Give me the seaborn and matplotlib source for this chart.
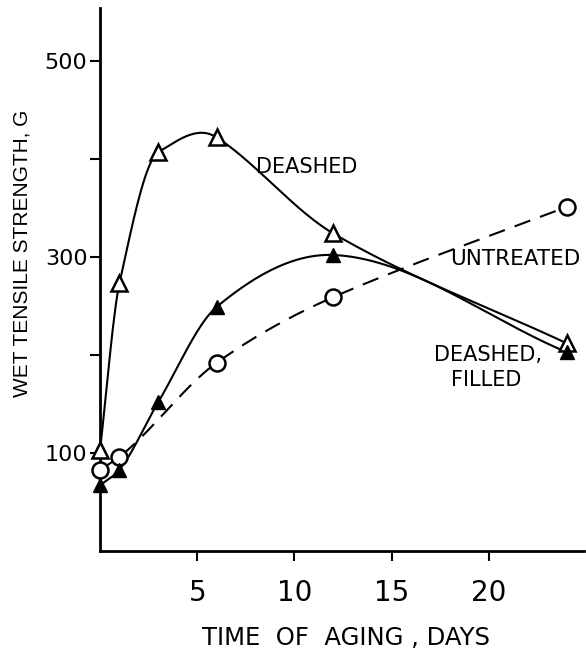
import numpy as np
import pandas as pd
import matplotlib
matplotlib.use("Agg")
import matplotlib.pyplot as plt
import seaborn as sns

# Wet tensile strength (g) versus time of aging (days)
deashed_days = [0, 1, 3, 6, 12, 24]
deashed_strength = [103, 273, 407, 422, 324, 212]

filled_days = [0, 1, 3, 6, 12, 24]
filled_strength = [67, 83, 152, 249, 302, 203]

untreated_days = [0, 1, 6, 12, 24]
untreated_strength = [83, 96, 192, 259, 351]

x_ticks = [5, 10, 15, 20]
y_ticks = [100, 200, 300, 400, 500]
y_tick_labels = ["100", "", "300", "", "500"]


def smooth_curve(x, y, n=400):
    """Modified-Akima cubic Hermite curve through the measured points."""
    x = np.asarray(x, float)
    y = np.asarray(y, float)
    k = len(x)
    s = np.diff(y) / np.diff(x)
    # extend the secant slopes two steps beyond each end
    ext = np.concatenate((
        [3 * s[0] - 2 * s[1], 2 * s[0] - s[1]],
        s,
        [2 * s[-1] - s[-2], 3 * s[-1] - 2 * s[-2]],
    ))
    m = np.empty(k)
    for i in range(k):
        sm2, sm1, s0, sp1 = ext[i], ext[i + 1], ext[i + 2], ext[i + 3]
        w1 = abs(sp1 - s0) + abs(sp1 + s0) / 2
        w2 = abs(sm1 - sm2) + abs(sm1 + sm2) / 2
        if w1 + w2 == 0:
            m[i] = 0.5 * (sm1 + s0)
        else:
            m[i] = (w1 * sm1 + w2 * s0) / (w1 + w2)
    m[0] = s[0]
    m[-1] = s[-1]
    xs = np.linspace(x[0], x[-1], n)
    ys = np.empty_like(xs)
    for j, xv in enumerate(xs):
        i = min(np.searchsorted(x, xv, side="right") - 1, k - 2)
        h = x[i + 1] - x[i]
        t = (xv - x[i]) / h
        h00 = 2 * t ** 3 - 3 * t ** 2 + 1
        h10 = t ** 3 - 2 * t ** 2 + t
        h01 = -2 * t ** 3 + 3 * t ** 2
        h11 = t ** 3 - t ** 2
        ys[j] = h00 * y[i] + h10 * h * m[i] + h01 * y[i + 1] + h11 * h * m[i + 1]
    return xs, ys


sns.set_theme(style="white")
plt.rcParams["font.family"] = ["DejaVu Sans"]
plt.rcParams["text.color"] = "black"
plt.rcParams["axes.labelcolor"] = "black"

fig = plt.figure(figsize=(5.86, 6.52), dpi=100)
ax = fig.add_axes([100 / 586, 101 / 652, 484 / 586, 543 / 652])

curves = [
    (deashed_days, deashed_strength, "-"),
    (filled_days, filled_strength, "-"),
    (untreated_days, untreated_strength, (0, (8, 5))),
]
for xd, yd, ls in curves:
    xs, ys = smooth_curve(xd, yd)
    sns.lineplot(x=xs, y=ys, ax=ax, color="black", linewidth=1.5,
                 linestyle=ls, sort=False, estimator=None)

pts = pd.DataFrame({"days": untreated_days, "strength": untreated_strength})
ax.plot(pts["days"], pts["strength"], linestyle="none", marker="o",
        markersize=11.5, markerfacecolor="white", markeredgecolor="black",
        markeredgewidth=1.8, clip_on=False, zorder=5)
ax.plot(deashed_days, deashed_strength, linestyle="none", marker="^",
        markersize=11, markerfacecolor="white", markeredgecolor="black",
        markeredgewidth=1.8, clip_on=False, zorder=5)
ax.plot(filled_days, filled_strength, linestyle="none", marker="^",
        markersize=10, markerfacecolor="black", markeredgecolor="black",
        markeredgewidth=1.0, clip_on=False, zorder=6)

ax.set_xlim(0, 24.9)
ax.set_ylim(0, 554)
ax.set_xticks(x_ticks)
ax.set_yticks(y_ticks)
ax.set_yticklabels(y_tick_labels)

for side in ("top", "right"):
    ax.spines[side].set_visible(False)
for side in ("left", "bottom"):
    ax.spines[side].set_color("black")
    ax.spines[side].set_linewidth(2.0)

ax.tick_params(axis="both", direction="out", length=7, width=1.5,
               colors="black", left=True, bottom=True)
ax.tick_params(axis="x", pad=13.5, labelsize=20)
ax.tick_params(axis="y", pad=2, labelsize=16)

ax.set_xlabel("TIME  OF  AGING , DAYS", fontsize=17.5)
ax.xaxis.label.set_va("center")
ax.xaxis.set_label_coords(0.508, -0.160)
ax.set_ylabel("WET TENSILE STRENGTH, G", fontsize=15, family="Liberation Sans")
ax.yaxis.label.set_va("center")
ax.yaxis.set_label_coords(-0.161, 0.549)

ax.text(8.0, 392, "DEASHED", fontsize=15, ha="left", va="center")
ax.text(18.0, 298, "UNTREATED", fontsize=15.5, ha="left", va="center")
ax.text(19.95, 200, "DEASHED,", fontsize=15, ha="center", va="center")
ax.text(19.85, 174, "FILLED", fontsize=15, ha="center", va="center")

fig.savefig("out.png", dpi=100, facecolor="white")
